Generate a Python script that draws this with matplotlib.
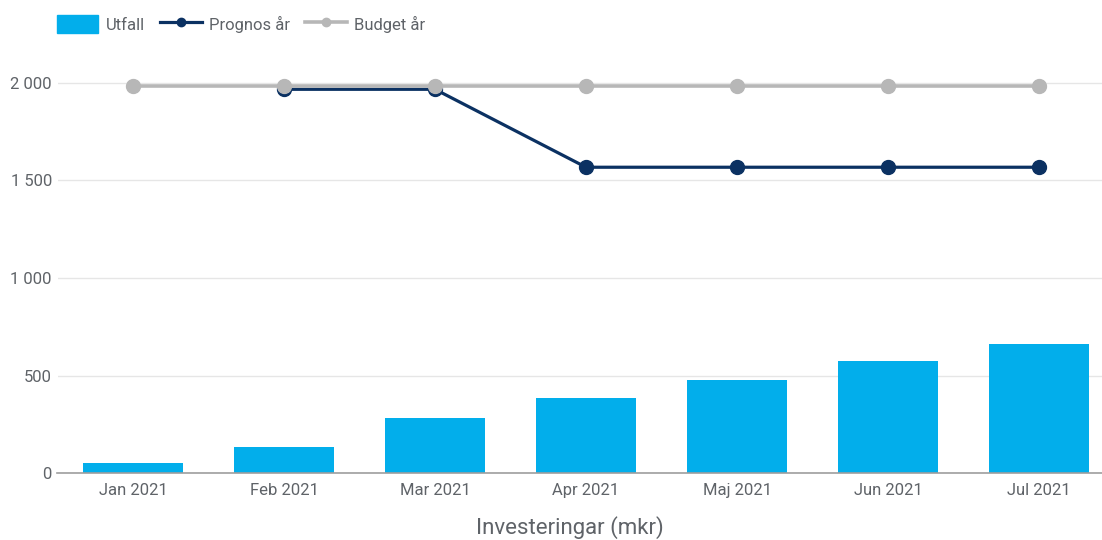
import numpy as np
import matplotlib
matplotlib.use('Agg')
from matplotlib import pyplot as plt
from matplotlib.ticker import FuncFormatter
from matplotlib.patches import Patch
from matplotlib.lines import Line2D

plt.rcParams['font.family'] = ['Roboto', 'DejaVu Sans']

months = ['Jan 2021', 'Feb 2021', 'Mar 2021', 'Apr 2021',
          'Maj 2021', 'Jun 2021', 'Jul 2021']
utfall = [51, 135, 285, 387, 476, 575, 662]
prognos = [np.nan, 1966, 1966, 1567, 1567, 1567, 1567]
budget = [1983, 1983, 1983, 1983, 1983, 1983, 1983]

BAR = '#02AEEB'
NAVY = '#0B3162'
GREY = '#B7B7B7'
TEXT = '#5F6368'

W, H = 1102, 540
fig = plt.figure(figsize=(W / 100, H / 100), dpi=100)
# plot area in pixels: x from 57.5, y=0 at 473.3, 2000 at 82.7
ax = fig.add_axes([57.5 / W, 66.7 / H, 1 - 57.5 / W, (496.4 - 66.7) / H])

x = np.arange(len(months))
ax.bar(x, utfall, width=0.66, color=BAR, zorder=2)
ax.plot(x, prognos, color=NAVY, lw=2.3, marker='o', ms=10, zorder=3,
        clip_on=False)
ax.plot(x, budget, color=GREY, lw=2.6, marker='o', ms=10, zorder=4,
        clip_on=False)

ax.set_xlim(-0.5, 6.5 - 12.5 / 151)
ax.set_ylim(0, 2200)
ax.set_yticks([0, 500, 1000, 1500, 2000])
ax.yaxis.set_major_formatter(
    FuncFormatter(lambda v, _: f'{int(v):,}'.replace(',', ' ')))
ax.set_xticks(x)
ax.set_xticklabels(months)
ax.tick_params(length=0, labelsize=12, colors=TEXT)
ax.tick_params(axis='x', pad=7)
ax.tick_params(axis='y', pad=4)
ax.grid(axis='y', color='#E6E6E6', lw=1, zorder=0)
for s in ['top', 'right', 'left']:
    ax.spines[s].set_visible(False)
ax.spines['bottom'].set_color('#9E9E9E')
ax.spines['bottom'].set_linewidth(1.2)
ax.spines['bottom'].set_zorder(5)

fig.text(570 / W, 1 - 528 / H, 'Investeringar (mkr)', ha='center',
         va='center', fontsize=16, color=TEXT)

handles = [
    Patch(color=BAR),
    Line2D([], [], color=NAVY, lw=2.3, marker='o', ms=6),
    Line2D([], [], color=GREY, lw=2.6, marker='o', ms=6),
]
fig.legend(handles, ['Utfall', 'Prognos år', 'Budget år'],
           loc='center left', bbox_to_anchor=(50 / W, 1 - 24 / H),
           ncol=3, frameon=False, fontsize=12, labelcolor=TEXT,
           handlelength=2.5, handleheight=1.2, handletextpad=0.45,
           columnspacing=0.9, borderaxespad=0, borderpad=0.4)

fig.savefig('out.png', dpi=100)
